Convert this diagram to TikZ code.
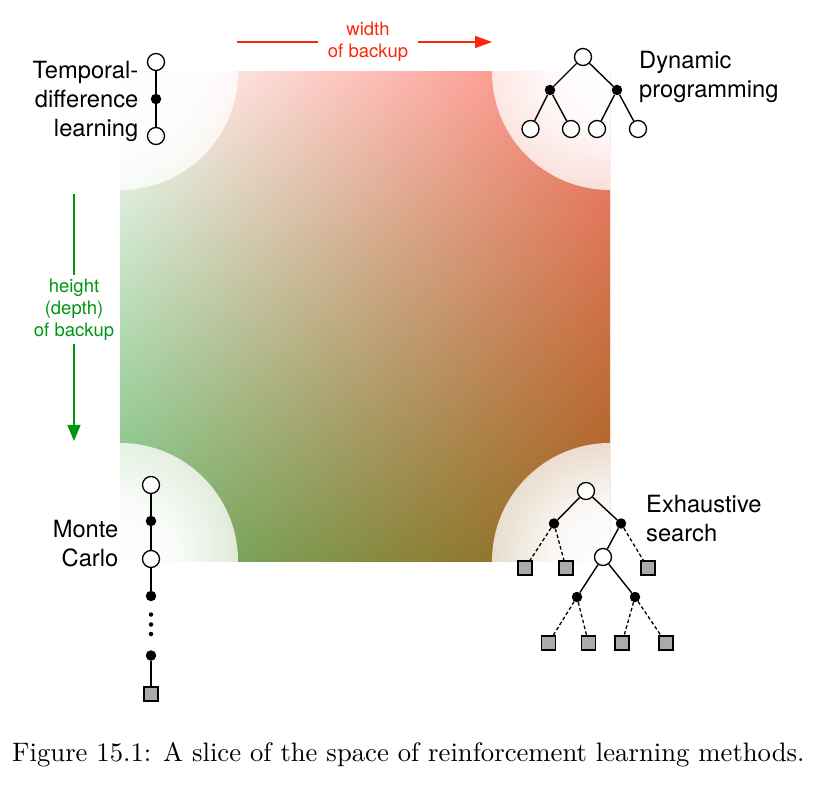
\documentclass[tikz,border=0pt]{standalone}
\usepackage{fontspec}
\newfontfamily\hv{TeX Gyre Heros}
\newfontfamily\capfont{lmroman10-regular}[Extension=.otf]
\usetikzlibrary{arrows.meta,fadings}

\definecolor{cTR}{RGB}{252,128,115}
\definecolor{cBR}{RGB}{158,95,22}
\definecolor{cBL}{RGB}{110,185,110}
\definecolor{arrred}{RGB}{250,40,10}
\definecolor{arrgreen}{RGB}{0,150,20}
\definecolor{leafgray}{RGB}{170,170,170}

\pgfdeclareradialshading{cornershade}{\pgfpointorigin}{color(0bp)=(white); color(12bp)=(white!96!black); color(50bp)=(white!38!black)}
\pgfdeclarefading{cornerfade}{\pgfuseshading{cornershade}}

\tikzset{
  opennode/.style={circle, draw, fill=white, line width=1.3pt, minimum size=17pt, inner sep=0pt},
  dotnode/.style={circle, fill=black, minimum size=10.5pt, inner sep=0pt},
  tinydot/.style={circle, fill=black, minimum size=4.5pt, inner sep=0pt},
  leafnode/.style={rectangle, draw, fill=leafgray, line width=1.3pt, minimum size=14pt, inner sep=0pt},
  edge/.style={line width=1.4pt},
  dashedge/.style={line width=1.3pt, dash pattern=on 3.5pt off 2.5pt},
  biglabel/.style={font=\hv\fontsize{23.7}{29}\selectfont, inner sep=0pt},
  axislabel/.style={font=\hv\fontsize{18.5}{22}\selectfont, align=center},
}

\begin{document}
\begin{tikzpicture}[x=1pt,y=-1pt]
\useasboundingbox (0,0) rectangle (828,786);

% gradient square
\begin{scope}
  \clip (120,72) rectangle (610,561);
  \foreach \i in {0,...,97}{
    \pgfmathsetmacro\p{(\i+0.5)/98*100}
    \colorlet{lc}{cBL!\p!white}
    \colorlet{rc}{cBR!\p!cTR}
    \shade[left color=lc, right color=rc] (120,72+\i*5) rectangle (610,77.4+\i*5);
  }
  \foreach \cx/\cy in {120/72,610/72,120/561,610/561}
    \fill[white, path fading=cornerfade] (\cx,\cy) circle (118);
\end{scope}

% width arrow
\coordinate (rs) at (237,42);
\coordinate (re) at (492,42);
\node[axislabel, text=arrred, inner xsep=9.5pt, inner ysep=2pt] (rlab) at (368,42) {width\\of backup};
\draw[arrred, line width=1.5pt] (rs) -- (rs -| rlab.west);
\draw[arrred, line width=1.5pt, -{Triangle[length=17pt,width=12pt]}] (rlab.east |- re) -- (re);

% height arrow
\coordinate (gs) at (74,194);
\coordinate (ge) at (74,441);
\node[axislabel, text=arrgreen, inner xsep=2pt, inner ysep=3.5pt] (glab) at (74,309.5) {height\\(depth)\\of backup};
\draw[arrgreen, line width=1.5pt] (gs) -- (gs |- glab.north);
\draw[arrgreen, line width=1.5pt, -{Triangle[length=16pt,width=13pt]}] (ge |- glab.south) -- (ge);

% Temporal-difference learning
\node[opennode] (td1) at (156,62) {};
\node[dotnode] (td2) at (156,99) {};
\node[opennode] (td3) at (156,136) {};
\draw[edge] (td1) -- (td2) -- (td3);
\node[biglabel, anchor=north east, align=right] (tdlab) at (138.5,61.5) {Temporal-\\difference\\learning};

% Dynamic programming
\node[opennode] (dp0) at (583,57) {};
\node[dotnode] (dpa) at (550,90) {};
\node[dotnode] (dpb) at (617,90) {};
\node[opennode] (dp1) at (530.5,129) {};
\node[opennode] (dp2) at (571,129) {};
\node[opennode] (dp3) at (597,129) {};
\node[opennode] (dp4) at (638,129) {};
\draw[edge] (dp0) -- (dpa); \draw[edge] (dp0) -- (dpb);
\draw[edge] (dpa) -- (dp1); \draw[edge] (dpa) -- (dp2);
\draw[edge] (dpb) -- (dp3); \draw[edge] (dpb) -- (dp4);
\node[biglabel, anchor=north west, align=left] (dplab) at (639,51.5) {Dynamic\\programming};

% Monte Carlo
\node[opennode] (mc1) at (151,485) {};
\node[dotnode] (mc2) at (151,521) {};
\node[opennode] (mc3) at (151,559) {};
\node[dotnode] (mc4) at (151,596) {};
\node[tinydot] (mcd1) at (151,614.5) {};
\node[tinydot] (mcd2) at (151,624.5) {};
\node[tinydot] (mcd3) at (151,634) {};
\node[dotnode] (mc5) at (151,655.5) {};
\node[leafnode] (mc6) at (151,694) {};
\draw[edge] (mc1) -- (mc2) -- (mc3) -- (mc4);
\draw[edge] (mc5) -- (mc6);
\node[biglabel, anchor=north east, align=right] (mclab) at (118.5,520.5) {Monte\\Carlo};

% Exhaustive search
\node[opennode] (es0) at (586,491) {};
\node[dotnode] (esa) at (554,523.5) {};
\node[dotnode] (esb) at (621,523.5) {};
\node[leafnode] (es1) at (525,568) {};
\node[leafnode] (es2) at (566,568) {};
\node[opennode] (esc) at (603,557) {};
\node[leafnode] (es3) at (648,568) {};
\node[dotnode] (ese) at (577,597) {};
\node[dotnode] (esf) at (635,597) {};
\node[leafnode] (es4) at (548.5,643) {};
\node[leafnode] (es5) at (588.5,643) {};
\node[leafnode] (es6) at (622,643) {};
\node[leafnode] (es7) at (666,643) {};
\draw[edge] (es0) -- (esa); \draw[edge] (es0) -- (esb);
\draw[edge] (esb) -- (esc);
\draw[edge] (esc) -- (ese); \draw[edge] (esc) -- (esf);
\draw[dashedge] (esa) -- (es1); \draw[dashedge] (esa) -- (es2);
\draw[dashedge] (esb) -- (es3);
\draw[dashedge] (ese) -- (es4); \draw[dashedge] (ese) -- (es5);
\draw[dashedge] (esf) -- (es6); \draw[dashedge] (esf) -- (es7);
\node[biglabel, anchor=north west, align=left] (eslab) at (646,495.5) {Exhaustive\\search};

% caption
\node[font=\capfont\fontsize{26.7}{30}\selectfont, anchor=base west, inner sep=0pt] (cap) at (12,761) {Figure 15.1: A slice of the space of reinforcement learning methods.};
\end{tikzpicture}
\end{document}
